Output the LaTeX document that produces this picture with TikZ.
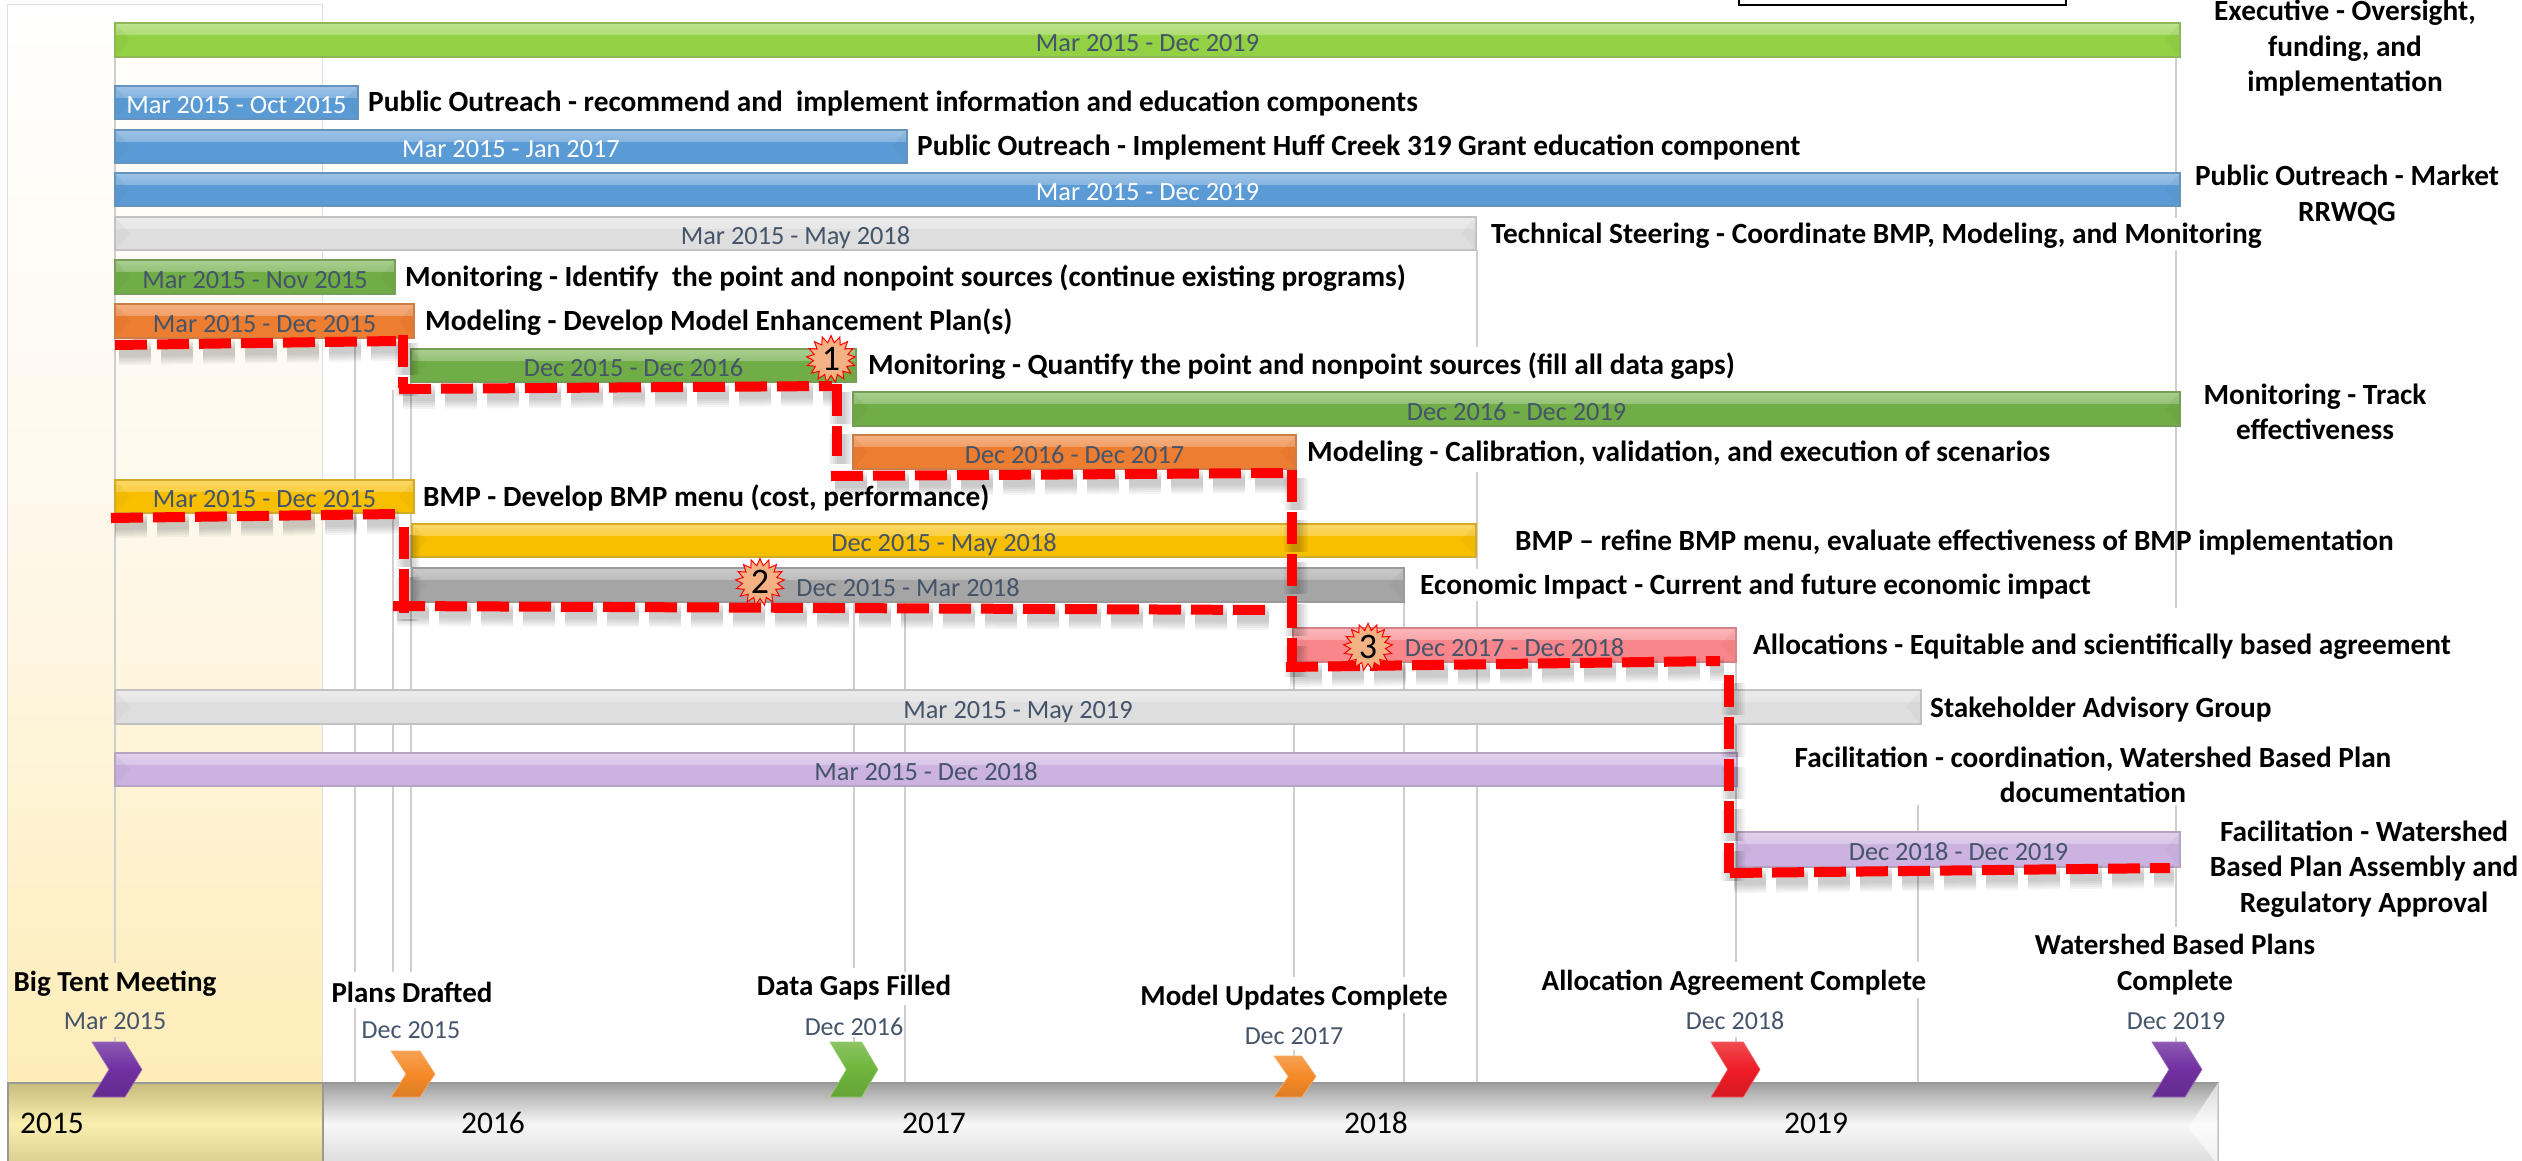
\documentclass[tikz,border=0pt]{standalone}
\usepackage{fontspec}
\setmainfont{Carlito}
\usetikzlibrary{positioning,shapes.symbols}
\definecolor{slate}{HTML}{44546A}
\definecolor{execgreen}{HTML}{92D144}
\definecolor{outblue}{HTML}{5B9BD5}
\definecolor{steergray}{HTML}{DEDEDE}
\definecolor{mongreen}{HTML}{70AD47}
\definecolor{modorange}{HTML}{ED7D31}
\definecolor{bmpyellow}{HTML}{F8BE00}
\definecolor{econgray}{HTML}{A5A5A5}
\definecolor{allocpink}{HTML}{F8868A}
\definecolor{faclav}{HTML}{CCB2E0}
\definecolor{gridgray}{HTML}{CFCFCF}
\definecolor{chevpurple}{HTML}{7030A0}
\definecolor{chevorange}{HTML}{F58A28}
\definecolor{chevgreen}{HTML}{6FB53C}
\definecolor{chevred}{HTML}{EE1C25}
\definecolor{burstfill}{HTML}{F4B183}
\definecolor{panelmid}{HTML}{FEF8EA}
\definecolor{panelend}{HTML}{FEEDB8}
\definecolor{yeartop}{HTML}{C8BC7C}
\definecolor{yearmid}{HTML}{FBEFB0}
\definecolor{yearend}{HTML}{DACE8E}
\tikzset{
	barnode/.style={rectangle,anchor=north west,inner sep=0pt,outer sep=0pt,draw=#1!70!gray,line width=1.5pt,fill=#1,
		text height=24pt,text depth=2pt,font=\fontsize{26.3}{30}\selectfont,
		path picture={
			\shade[top color=#1!60!white,bottom color=#1] (path picture bounding box.north west) rectangle ([yshift=-11pt]path picture bounding box.north east);
			\fill[#1!75!black,opacity=0.1] (path picture bounding box.north west) -- ([xshift=15pt]path picture bounding box.west) -- (path picture bounding box.south west) -- cycle;
			\fill[#1!75!black,opacity=0.1] (path picture bounding box.north east) -- ([xshift=-15pt]path picture bounding box.east) -- (path picture bounding box.south east) -- cycle;
		}},
	tasklabel/.style={anchor=west,inner xsep=0pt,inner ysep=0pt,fill=white,text height=25pt,text depth=7pt,font=\fontsize{29.3}{35}\selectfont\bfseries},
	wraplabel/.style={align=center,inner sep=0pt,font=\fontsize{29.3}{35.5}\selectfont\bfseries},
	milelabel/.style={align=center,inner sep=0pt,font=\fontsize{29}{36}\selectfont\bfseries},
	datelabel/.style={inner sep=0pt,text=slate,font=\fontsize{26}{30}\selectfont},
	yearlabel/.style={inner sep=0pt,font=\fontsize{31.5}{35}\selectfont},
	gridline/.style={draw=gridgray,line width=2pt},
	critpath/.style={draw=red,line width=10pt,dash pattern=on 32pt off 10pt},
	critshade/.style={draw=black,opacity=0.045,dash pattern=on 32pt off 10pt},
	burst/.style={starburst,starburst points=17,starburst point height=7pt,random starburst=0,draw=red,line width=1pt,fill=burstfill,inner sep=0pt,minimum width=49pt,minimum height=47pt,font=\fontsize{36}{38}\selectfont},
	chevnode/.style={draw=#1!70!white,line width=0.6pt,top color=#1!80!white,bottom color=#1!90!black,middle color=#1}
}
\begin{document}
\begin{tikzpicture}[x=1pt,y=-1pt]
	\useasboundingbox (0,0) rectangle (2522,1160);
	% year panel and top box
	\node[rectangle,anchor=north west,inner sep=0pt,draw=gray!25,line width=1pt,top color=white,bottom color=panelend,middle color=panelmid,minimum width=315pt,minimum height=1078pt] (panel) at (7,4) {};
	\draw[black,line width=2.5pt,fill=white] (1739,-10) rectangle (2066,5);
	% grid lines
	\foreach \x/\ya/\yb in {115/57/963,115/1037/1042,355/338/972,355/1008/1082,393/390/972,411/382/972,
		854/602/968,854/1037/1042,905/602/972,905/1005/1082,1294/662/977,1294/1050/1056,
		1404/602/977,1404/1013/1082,1477/250/347,1477/472/1082,1736/662/962,1736/1037/1042,
		1918/805/962,1918/998/1082,2176/57/608,2176/805/927,2176/1037/1042}
	{
		\draw[gridline] (\x,\ya) -- (\x,\yb);
	}
	% timeline
	\node[rectangle,anchor=north west,inner sep=0pt,draw=gray!80,line width=1.5pt,top color=black!38,bottom color=black!14,middle color=black!3,minimum width=2210pt,minimum height=82pt] (timeline) at (7,1082) {};
	\fill[white,opacity=0.6] (timeline.north east) -- ([xshift=-30pt,yshift=-4pt]timeline.east) -- (timeline.south east) -- cycle;
	\node[rectangle,anchor=north west,inner sep=0pt,draw=gray!80,line width=1.5pt,top color=yeartop,bottom color=yearend,middle color=yearmid,minimum width=315pt,minimum height=82pt] (yearA) at (7,1082) {};
	\foreach \yname/\yx/\ytxt in {yA/52/2015,yB/493/2016,yC/934/2017,yD/1376/2018,yE/1816/2019}
	{
		\node[yearlabel] (\yname) at (\yx,1123) {\ytxt};
	}
	% bars
	\foreach \bname/\xa/\xb/\ya/\yb/\col/\tcol/\txt in {
		exec/115/2180/23/57/execgreen/slate/Mar 2015 - Dec 2019,
		outA/115/358/86/119/outblue/white/Mar 2015 - Oct 2015,
		outB/115/907/130/163/outblue/white/Mar 2015 - Jan 2017,
		outC/115/2180/173/206/outblue/white/Mar 2015 - Dec 2019,
		steer/115/1476/217/250/steergray/slate/Mar 2015 - May 2018,
		monA/115/395/260/294/mongreen/slate/Mar 2015 - Nov 2015,
		modA/115/414/304/338/modorange/slate/Mar 2015 - Dec 2015,
		monB/411/856/349/382/mongreen/slate/Dec 2015 - Dec 2016,
		monC/853/2180/392/426/mongreen/slate/Dec 2016 - Dec 2019,
		modB/853/1296/435/469/modorange/slate/Dec 2016 - Dec 2017,
		bmpA/115/414/480/513/bmpyellow/slate/Mar 2015 - Dec 2015,
		bmpB/412/1476/524/557/bmpyellow/slate/Dec 2015 - May 2018,
		econ/412/1404/568/602/econgray/slate/Dec 2015 - Mar 2018,
		alloc/1293/1736/628/662/allocpink/slate/Dec 2017 - Dec 2018,
		stake/115/1921/690/724/steergray/slate/Mar 2015 - May 2019,
		facA/115/1737/753/786/faclav/slate/Mar 2015 - Dec 2018,
		facB/1737/2180/832/867/faclav/slate/Dec 2018 - Dec 2019}
	{
		\node[barnode=\col,text=\tcol,minimum width={(\xb-\xa)*1pt},minimum height={(\yb-\ya)*1pt}] (\bname) at (\xa,\ya) {\txt};
	}
	% task labels
	\node[tasklabel] (lblOutA) at (368,102) {Public Outreach - recommend and \ implement information and education components};
	\node[tasklabel] (lblOutB) at (917,146) {Public Outreach - Implement Huff Creek 319 Grant education component};
	\node[tasklabel] (lblSteer) at (1491,234) {Technical Steering - Coordinate BMP, Modeling, and Monitoring};
	\node[tasklabel] (lblMonA) at (405,277) {Monitoring - Identify \ the point and nonpoint sources (continue existing programs)};
	\node[tasklabel] (lblModA) at (425,321) {Modeling - Develop Model Enhancement Plan(s)};
	\node[tasklabel] (lblMonB) at (868,365) {Monitoring - Quantify the point and nonpoint sources (fill all data gaps)};
	\node[tasklabel] (lblModB) at (1307,452) {Modeling - Calibration, validation, and execution of scenarios};
	\node[tasklabel] (lblBmpA) at (423,497) {BMP - Develop BMP menu (cost, performance)};
	\node[tasklabel,fill=none] (lblBmpB) at (1515,541) {BMP – refine BMP menu, evaluate effectiveness of BMP implementation};
	\node[tasklabel] (lblEcon) at (1420,585) {Economic Impact - Current and future economic impact};
	\node[tasklabel] (lblAlloc) at (1753,645) {Allocations - Equitable and scientifically based agreement};
	\node[tasklabel] (lblStake) at (1930,708) {Stakeholder Advisory Group};
	\node[wraplabel] (lblExec) at (2345,48) {Executive - Oversight,\\funding, and\\implementation};
	\node[wraplabel] (lblOutC) at (2347,195) {Public Outreach - Market\\RRWQG};
	\node[wraplabel] (lblMonC) at (2315,412) {Monitoring - Track\\effectiveness};
	\node[wraplabel] (lblFacA) at (2093,775) {Facilitation - coordination, Watershed Based Plan\\documentation};
	\node[wraplabel] (lblFacB) at (2364,869) {Facilitation - Watershed\\Based Plan Assembly and\\Regulatory Approval};
	% critical path
	\coordinate (a1) at (115,345); \coordinate (a2) at (396,341);
	\coordinate (a3) at (403,335); \coordinate (a4) at (403,388);
	\coordinate (a5) at (399,389); \coordinate (a6) at (832,386);
	\coordinate (a7) at (837,384); \coordinate (a8) at (837,456);
	\coordinate (a9) at (831,476); \coordinate (a10) at (1284,473);
	\coordinate (a11) at (1292,470); \coordinate (a12) at (1292,669);
	\coordinate (a13) at (1286,667); \coordinate (a14) at (1720,661);
	\coordinate (a15) at (1729,675); \coordinate (a16) at (1729,873);
	\coordinate (a17) at (1730,873); \coordinate (a18) at (2170,868);
	\coordinate (b1) at (111,518); \coordinate (b2) at (396,514);
	\coordinate (b3) at (404,527); \coordinate (b4) at (404,613);
	\coordinate (b5) at (393,606); \coordinate (b6) at (1270,610);
	\foreach \i/\j in {a1/a2,a3/a4,a5/a6,a7/a8,a9/a10,a11/a12,a13/a14,a15/a16,a17/a18,b1/b2,b3/b4,b5/b6}
	{
		\foreach \w in {24,20,16,12,8}
		{
			\draw[critshade,line width=\w pt] ([shift={(4pt,-8pt)}]\i) -- ([shift={(4pt,-8pt)}]\j);
		}
	}
	\foreach \i/\j in {a1/a2,a3/a4,a5/a6,a7/a8,a9/a10,a11/a12,a13/a14,a15/a16,a17/a18,b1/b2,b3/b4,b5/b6}
	{
		\draw[critpath] (\i) -- (\j);
	}
	% numbered bursts
	\node[burst] (burstA) at (831,359) {1};
	\node[burst] (burstB) at (760,582) {2};
	\node[burst] (burstC) at (1368,647) {3};
	% milestones
	\foreach \mname/\xa/\cw/\ya/\col in {mA/92/50/1042/chevpurple,mB/391/44/1051/chevorange,mC/830/48/1042/chevgreen,
		mD/1274/42/1056/chevorange,mE/1711/49/1042/chevred,mF/2152/50/1042/chevpurple}
	{
		\draw[chevnode=\col] (\xa,\ya) -- ++(0.66*\cw,0) -- (\xa+\cw,{(\ya+1097)/2}) -- (\xa+0.66*\cw,1097) -- (\xa,1097) -- (\xa+0.34*\cw,{(\ya+1097)/2}) -- cycle;
	}
	\node[milelabel] (titleA) at (115,984) {Big Tent Meeting};
	\node[datelabel] (dateA) at (115,1021) {Mar 2015};
	\node[milelabel] (titleB) at (412,992) {Plans Drafted};
	\node[datelabel] (dateB) at (411,1030) {Dec 2015};
	\node[milelabel] (titleC) at (854,988) {Data Gaps Filled};
	\node[datelabel] (dateC) at (854,1027) {Dec 2016};
	\node[milelabel] (titleD) at (1294,998) {Model Updates Complete};
	\node[datelabel] (dateD) at (1294,1036) {Dec 2017};
	\node[milelabel] (titleE) at (1734,983) {Allocation Agreement Complete};
	\node[datelabel] (dateE) at (1735,1021) {Dec 2018};
	\node[milelabel] (titleF) at (2175,965) {Watershed Based Plans\\Complete};
	\node[datelabel] (dateF) at (2176,1021) {Dec 2019};
\end{tikzpicture}
\end{document}
